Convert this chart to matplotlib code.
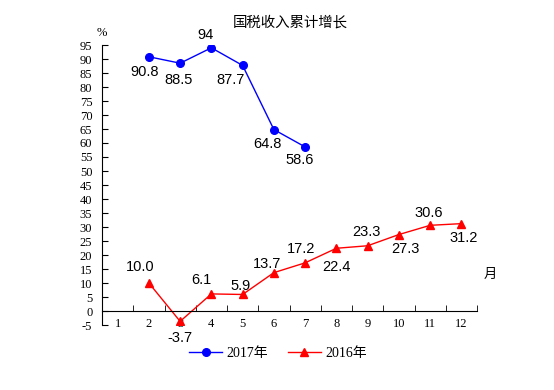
import matplotlib
matplotlib.use("Agg")
import matplotlib.pyplot as plt
import numpy as np

# data
months = [1, 2, 3, 4, 5, 6, 7, 8, 9, 10, 11, 12]
month_labels = ["1", "2", "3", "4", "5", "6", "7", "8", "9", "10", "11", "12"]
m2017 = [2, 3, 4, 5, 6, 7]
v2017 = [90.8, 88.5, 94, 87.7, 64.8, 58.6]
lab2017 = ["90.8", "88.5", "94", "87.7", "64.8", "58.6"]
m2016 = [2, 3, 4, 5, 6, 7, 8, 9, 10, 11, 12]
v2016 = [10.0, -3.7, 6.1, 5.9, 13.7, 17.2, 22.4, 23.3, 27.3, 30.6, 31.2]
lab2016 = ["10.0", "-3.7", "6.1", "5.9", "13.7", "17.2", "22.4", "23.3", "27.3", "30.6", "31.2"]

# label offsets in pixels (dx, dy)
off2017 = [(-4, -15), (-2, -17), (-6, 13), (-12, -15), (-6, -14), (-5, -13)]
off2016 = [(-9, 16), (0, -17), (-10, 14), (-2, 8), (-7, 9), (-4, 14),
           (0, -19), (-1, 14), (7, -14), (-1, 12), (2, -14)]

serif = ["Liberation Serif", "Noto Sans CJK SC"]
sans = "Liberation Sans"

fig = plt.figure(figsize=(5.54, 3.90), dpi=100)
ax = fig.add_axes([102/554, 65/390, 375/554, 280/390])

ax.plot(m2017, v2017, color="#0000ff", lw=1, marker="o", ms=5.5, label="2017年")
ax.plot(m2016, v2016, color="#ff0000", lw=1, marker="^", ms=6, label="2016年")

for x, y, t, o in zip(m2017, v2017, lab2017, off2017):
    ax.annotate(t, (x, y), xytext=o, textcoords="offset pixels", ha="center", va="center",
                fontsize=10.5, family=sans)
for x, y, t, o in zip(m2016, v2016, lab2016, off2016):
    ax.annotate(t, (x, y), xytext=o, textcoords="offset pixels", ha="center", va="center",
                fontsize=10.5, family=sans)

ax.set_xlim(0.5, 12.5)
ax.set_ylim(-5, 95)
ax.spines["top"].set_visible(False)
ax.spines["right"].set_visible(False)
ax.spines["bottom"].set_position(("data", 0))
ax.spines["left"].set_bounds(-5, 95)

ax.set_xticks(months)
ax.set_xticklabels(month_labels, family=serif, fontsize=9)
ax.set_xticks(np.arange(0.5, 13, 1), minor=True)
ax.tick_params(axis="x", which="major", length=0, pad=5)
ax.tick_params(axis="x", which="minor", direction="in", length=4)

ax.set_yticks(np.arange(-5, 96, 5))
ax.set_yticklabels([str(v) for v in np.arange(-5, 96, 5)], family=serif, fontsize=9)
ax.tick_params(axis="y", direction="in", length=4, pad=7)

ax.text(0, 1.043, "%", transform=ax.transAxes, ha="center", va="center", family=serif, fontsize=9)
ax.text(1.035, 0.179, "月", transform=ax.transAxes, ha="center", va="center",
        family="Noto Sans CJK SC", fontsize=9.5)
fig.text(290/554, 1 - 23/390, "国税收入累计增长", ha="center", va="center",
         family="Noto Sans CJK SC", fontsize=10.4)

fig.legend(loc="center", bbox_to_anchor=(278/554, 1 - 353/390), ncol=2, frameon=False,
           prop={"family": serif, "size": 10}, handlelength=2.4, columnspacing=1.4,
           handletextpad=0.3)

fig.savefig("out.png", dpi=100)
